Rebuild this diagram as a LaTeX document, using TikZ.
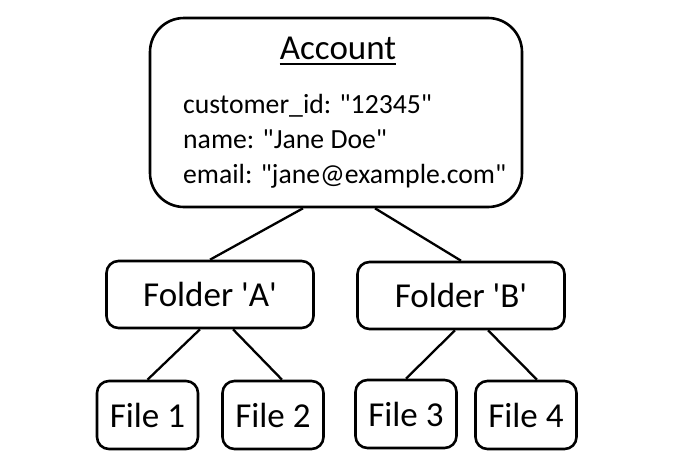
\documentclass[tikz,border=0pt]{standalone}
\usepackage{fontspec}
\setmainfont{Carlito}[Ligatures=TeXOff]
\usetikzlibrary{positioning,calc}

\tikzset{
    box/.style={draw, line width=2.6pt, rounded corners=12pt, inner sep=0pt,
        minimum width=101pt, minimum height=68pt, font=\fontsize{35}{42}\selectfont},
    folderbox/.style={box, minimum width=207pt, minimum height=67pt},
    link/.style={line width=2.3pt}
}

\begin{document}
\begin{tikzpicture}[x=1pt, y=-1pt]
    \useasboundingbox (0,0) rectangle (694,466);

    % Account record
    \node[box, rounded corners=34pt, minimum width=372pt, minimum height=189pt] (account) at (336,112.5) {};
    \node[anchor=base, inner sep=0pt, font=\fontsize{35}{42}\selectfont] (title) at (338,59) {Account};
    \draw[line width=2.4pt] ([yshift=-4.5pt]title.south west) -- ([yshift=-4.5pt]title.south east);
    \foreach \y/\name/\field in {
        113/custid/{customer\_id: "12345"},
        148/fullname/{name: "Jane Doe"},
        183/email/{email: "jane@example.com"}
    } {
        \node[anchor=base west, inner sep=0pt, font=\fontsize{27.7}{33}\selectfont] (\name) at (183,\y) {\field};
    }

    % Folders
    \node[folderbox] (folderA) at (210,294.5) {Folder 'A'};
    \node[folderbox] (folderB) at (461,295.5) {Folder 'B'};

    % Files
    \node[box] (file1) at (147.5,415) {File 1};
    \node[box] (file2) at (273,415) {File 2};
    \node[box] (file3) at (406,414) {File 3};
    \node[box] (file4) at (526,415) {File 4};

    % Links
    \draw[link] ($(account.south)+(-33,0)$) -- (folderA.north);
    \draw[link] ($(account.south)+(39,0)$) -- (folderB.north);
    \draw[link] ($(folderA.south)+(-10,0)$) -- (file1.north);
    \draw[link] ($(folderA.south)+(23,0)$) -- ($(file2.north)+(9,0)$);
    \draw[link] ($(folderB.south)+(-6,0)$) -- (file3.north);
    \draw[link] ($(folderB.south)+(27,0)$) -- ($(file4.north)+(11,0)$);
\end{tikzpicture}
\end{document}
